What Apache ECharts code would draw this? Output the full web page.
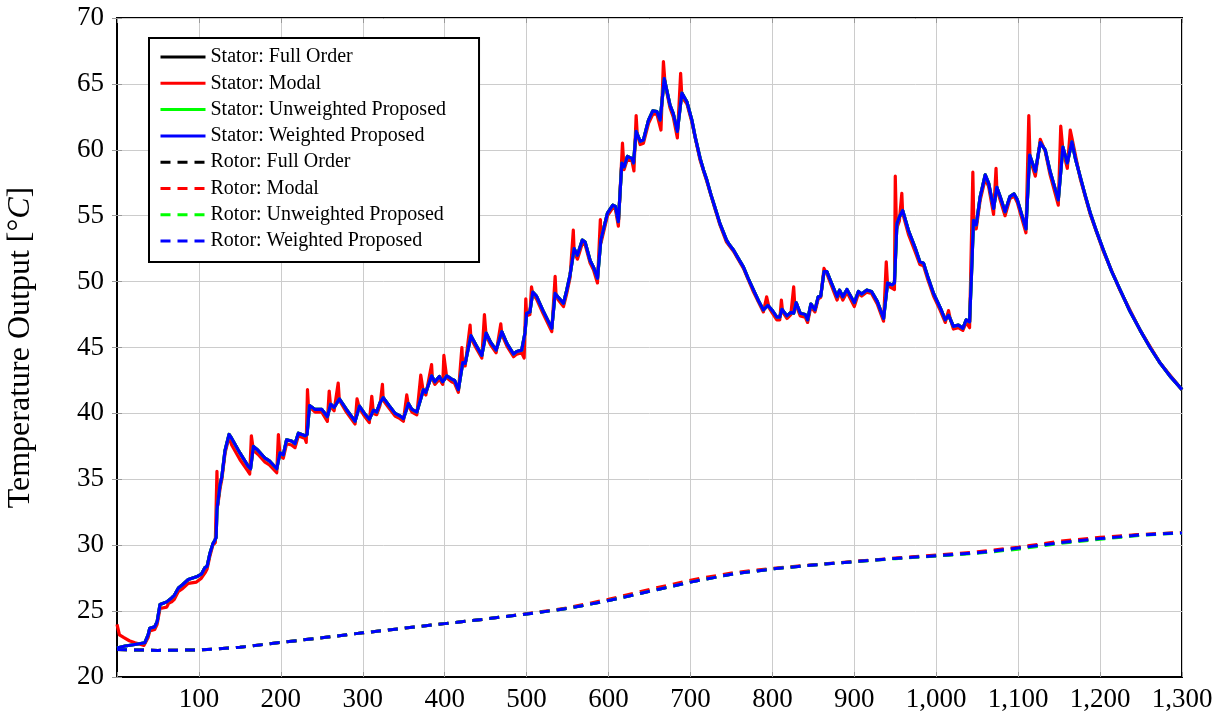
<!DOCTYPE html>
<html>
<head>
<meta charset="utf-8">
<script src="https://cdn.jsdelivr.net/npm/echarts@6/dist/echarts.min.js"></script>
<style>html,body{margin:0;padding:0;background:#fff;}#c{width:1225px;height:719px;}</style>
</head>
<body>
<div id="c"></div>
<script>
// Stator: full order / proposed (visually coincident)
const statorTime = [0,10,20,34,38,40,46,49,52.5,60.7,63,66.7,70,75,80,87,97,103,107.4,110,113.5,117,119.7,121,122,125.8,128,131.9,136.8,140,150,160,163,166.5,172,180.7,186,195,199,203,207,213,217.3,221.4,229.5,232,235,241.8,250,256.8,260.8,265,271.4,280,290.6,295.9,302,308,313,317,321,325,332,339.4,345.5,349.6,355.7,360,366,374,377,384,388,393.5,397.6,402.5,408.5,412,416.7,422,425,432,438,445.3,450.5,456,462.8,469.7,476,484,488,494,498,500,504,507.5,512,520,530.7,534.8,538.8,545,549,553,558,562,568,571.4,577.5,581.6,586.5,590.6,593,598.7,605.2,608.4,612,616.2,619,623,628.5,630.5,633.7,638.6,642.6,648.8,654,659,663,668,675,679,684,689.5,695.6,701.7,706,711.8,716,720,725,730,736,744,748,752.5,758,764.7,770,777,783,789,794.4,800,805.4,809,811.6,817.7,822.5,826,829,834,840,843,847,852,856,859,863,866.5,872,879,882,886,891,900,905,909,915,921,928,935.7,940.6,946,949,952,955,959,966,974,980,984.5,990,996.7,1005,1011,1015,1021,1027,1032.5,1036.6,1040.7,1043,1045.5,1048.8,1053.7,1059.8,1064,1070,1074,1078,1084,1090,1095,1099,1109.5,1114,1121,1127,1133,1139,1149,1154.6,1160,1165.6,1170,1175.8,1182,1188,1196,1204,1214,1224.6,1236.5,1249,1261,1273.5,1286.5,1300];
const statorFull = [22.2,22.35,22.45,22.6,23.2,23.7,23.8,24.2,25.5,25.7,25.8,26.0,26.2,26.75,27.0,27.4,27.6,27.8,28.3,28.4,29.4,30.1,30.4,30.6,32.7,34.6,35.2,37.2,38.4,38.1,37.0,36.0,35.8,37.5,37.2,36.6,36.4,35.8,37.0,36.85,38.0,37.9,37.7,38.5,38.3,38.4,40.6,40.3,40.3,39.75,40.7,40.45,41.1,40.3,39.4,40.55,40.0,39.55,40.25,40.1,40.8,41.2,40.6,40.0,39.8,39.6,40.75,40.3,40.1,41.8,41.6,42.85,42.4,42.8,42.4,42.85,42.6,42.5,41.8,43.85,43.8,45.9,45.2,44.4,46.1,45.4,44.8,46.2,45.3,44.5,44.7,44.8,46.1,47.6,47.7,49.2,48.9,47.8,46.45,49.1,48.8,48.35,49.35,50.5,52.5,52.0,53.15,53.0,51.6,51.1,50.25,53.15,53.3,55.2,55.8,55.7,54.55,59.0,58.7,59.5,59.35,59.0,61.4,60.65,60.75,62.25,62.95,62.9,62.25,65.4,63.4,62.75,61.4,64.3,63.65,62.25,60.9,59.35,58.45,57.7,56.6,55.6,54.4,53.15,52.75,52.4,51.8,51.1,50.3,49.35,48.55,47.85,48.2,47.8,47.3,47.3,47.9,47.4,47.65,47.6,48.4,47.6,47.5,47.1,48.3,47.85,48.85,48.9,50.75,50.75,49.9,48.85,49.35,48.85,49.4,48.4,49.25,49.05,49.35,49.25,48.5,47.2,49.9,49.75,49.9,54.4,54.9,55.4,53.9,52.6,51.5,51.4,50.3,49.1,48.0,47.1,47.45,46.6,46.7,46.45,47.1,46.95,50.5,54.65,54.3,56.45,58.1,57.45,55.55,57.15,56.45,55.3,56.45,56.65,56.2,54.0,59.6,58.35,60.55,60.0,58.35,56.2,60.2,59.0,60.6,59.3,57.95,56.5,55.2,53.75,52.4,50.8,49.35,47.75,46.3,45.0,43.8,42.75,41.8];

// Stator: modal
const modalTime = [0,3,8,15,22,33,38,40,46,49,52.5,60.7,63,66.7,70,75,80,87,97,103,107.4,110,113.5,117,120,122,123,125.8,128,131.9,136.8,140,150,160,162,164,166.5,172,180.7,186,195,197,199,203,207,213,217.3,221.4,229.5,231,232.5,234,235,241.8,250,256.8,259,260.8,265,270,271.4,280,290.6,293,295.9,302,308,311,313,317,321,324,325,332,339.4,345.5,349.6,353.7,355.7,360,366,370.8,374,377,384,385,388,393.5,397.6,399,402.5,408.5,412,416.7,421,422,425,431,432,438,445.3,448.5,450.5,456,462.8,468.5,469.7,476,484,488,494,497,499,500,504,506,507.5,512,520,530.7,534.8,536,538.8,545,549,553,557,558,562,568,571.4,577.5,581.6,586.5,590,591,593,598.7,605.2,608.4,612,617,619,623,628.5,631,633.7,635,638.6,642.6,648.8,654,659,664,667,669,675,679,684,688,689.5,695.6,701.7,711.8,720,730,736,744,752.5,764.7,777,789,793,796,800,805.4,809,811,812.5,817.7,822.5,826,827.5,829,834,840,843,847,852,856,859,863,866.5,872,879,882,886,891,900,905,909,915,921,928,935.7,939,940.6,946,949,950,951.5,955,958,959,966,974,980,984.5,990,996.7,1005,1011,1015,1017,1021,1027,1032.5,1036.6,1040.7,1044.7,1046,1048.8,1053.7,1059.8,1064,1070,1073,1074,1078,1084,1090,1095,1099,1109.5,1113,1114.5,1121,1127,1133,1139,1149,1152,1154.6,1160,1163.6,1165.6,1175.8,1188,1204,1224.6,1249,1273.5,1300];
const modalValues = [24.0,23.2,23.0,22.75,22.6,22.4,23.0,23.5,23.6,24.0,25.2,25.3,25.6,25.7,25.9,26.5,26.7,27.1,27.2,27.5,27.9,28.2,29.2,30.0,30.2,35.6,33.0,34.3,35.0,37.0,38.2,37.6,36.5,35.6,35.4,38.3,37.2,36.9,36.3,36.1,35.5,38.4,36.8,36.6,37.7,37.6,37.4,38.3,38.1,37.8,41.8,40.2,40.5,40.1,40.1,39.4,41.7,40.5,40.2,42.3,41.0,40.1,39.2,41.1,40.4,39.8,39.3,41.3,40.0,39.9,40.6,42.2,41.0,40.4,39.8,39.6,39.4,41.4,40.6,40.1,39.9,42.9,41.6,41.4,43.7,42.6,42.2,42.6,42.2,44.4,42.7,42.4,42.3,41.6,45.0,43.6,43.6,46.7,45.7,45.0,44.2,47.5,45.9,45.2,44.6,46.8,46.0,45.1,44.3,44.5,44.6,44.2,48.7,47.4,47.5,49.6,49.0,48.7,47.6,46.2,50.4,48.9,48.6,48.1,49.1,50.3,53.9,52.3,51.7,52.9,52.8,51.4,50.9,49.9,54.7,53.0,53.1,55.0,55.6,55.5,54.2,60.5,58.5,59.3,59.2,58.4,62.6,61.2,60.4,60.5,62.0,62.7,62.7,61.5,66.7,65.0,63.2,62.5,60.9,65.8,64.0,63.5,62.1,59.2,57.6,55.5,54.3,53.0,52.3,51.0,49.2,47.7,48.85,48.0,47.6,47.1,47.1,48.6,47.7,47.2,47.5,49.6,48.0,48.2,47.4,47.3,46.9,48.1,47.7,48.7,48.8,51.0,50.6,49.7,48.6,49.2,48.6,49.2,48.1,49.1,48.9,49.2,49.1,48.3,47.0,51.5,49.7,49.5,49.4,58.0,54.0,54.6,56.7,55.2,53.6,52.3,51.3,51.2,50.1,48.9,47.8,46.9,47.8,47.2,46.4,46.5,46.3,46.9,46.5,58.3,54.0,54.0,56.2,57.8,57.2,55.1,58.6,57.0,56.2,55.0,56.3,56.5,56.0,53.7,62.6,59.3,58.0,60.8,59.9,58.1,55.8,61.8,60.0,58.6,61.5,60.9,57.8,55.1,52.3,49.3,46.3,43.8,41.8];

// Rotor
const rotorTime = [0,50,100,150,200,250,300,350,400,450,500,550,600,650,700,750,800,850,900,950,1000,1050,1100,1150,1200,1250,1300];
const rotorFull = [22.08,22.02,22.05,22.25,22.62,22.98,23.35,23.7,24.05,24.4,24.78,25.2,25.8,26.5,27.2,27.8,28.2,28.5,28.75,29.0,29.2,29.42,29.78,30.2,30.52,30.8,30.95];
const rotorModal = [22.08,22.02,22.05,22.25,22.62,22.98,23.35,23.7,24.05,24.4,24.8,25.25,25.9,26.65,27.35,27.9,28.25,28.52,28.78,29.02,29.25,29.5,29.85,30.3,30.6,30.82,30.95];
const rotorUnweighted = [22.08,22.02,22.05,22.25,22.62,22.98,23.35,23.7,24.05,24.4,24.78,25.2,25.8,26.5,27.2,27.8,28.2,28.5,28.75,28.98,29.18,29.38,29.7,30.12,30.45,30.75,30.92];
const rotorWeighted = [22.08,22.02,22.05,22.25,22.62,22.98,23.35,23.7,24.05,24.4,24.78,25.2,25.8,26.5,27.2,27.8,28.2,28.5,28.75,29.0,29.2,29.42,29.78,30.18,30.5,30.78,30.93];

const xTicks = {min: 0, max: 1300, interval: 100};
const yTicks = {min: 20, max: 70, interval: 5};

const names = ['Stator: Full Order','Stator: Modal','Stator: Unweighted Proposed','Stator: Weighted Proposed','Rotor: Full Order','Rotor: Modal','Rotor: Unweighted Proposed','Rotor: Weighted Proposed'];
const colors = ['#000000','#ff0000','#00ff00','#0000ff'];

const zip = (xs, ys) => xs.map((x, i) => [x, ys[i]]);
const serif = 'Liberation Serif';

function lineSeries(name, data, color, dashed) {
  return {
    name, type: 'line', data, showSymbol: false, symbol: 'none',
    animation: false, silent: true,
    lineStyle: {color, width: dashed ? 3 : 3.2, type: dashed ? [10, 7] : 'solid', cap: 'butt', join: 'round'},
    itemStyle: {color}
  };
}

const series = [
  lineSeries(names[0], zip(statorTime, statorFull), colors[0], false),
  lineSeries(names[1], zip(modalTime, modalValues), colors[1], false),
  lineSeries(names[2], zip(statorTime, statorFull), colors[2], false),
  lineSeries(names[3], zip(statorTime, statorFull), colors[3], false),
  lineSeries(names[4], zip(rotorTime, rotorFull), colors[0], true),
  lineSeries(names[5], zip(rotorTime, rotorModal), colors[1], true),
  lineSeries(names[6], zip(rotorTime, rotorUnweighted), colors[2], true),
  lineSeries(names[7], zip(rotorTime, rotorWeighted), colors[3], true)
];

const chart = echarts.init(document.getElementById('c'), null, {renderer: 'canvas'});
chart.setOption({
  animation: false,
  backgroundColor: '#ffffff',
  grid: {left: 117, right: 43, top: 18, bottom: 42, show: true, borderColor: '#000', borderWidth: 2, containLabel: false, outerBoundsMode: 'none'},
  legend: {
    data: names, orient: 'vertical', left: 149, top: 38,
    itemWidth: 45, itemHeight: 14, itemGap: 6.3,
    padding: [9, 33, 11, 10],
    backgroundColor: '#fff', borderColor: '#000', borderWidth: 2,
    itemStyle: {color: 'rgba(0,0,0,0)', borderColor: 'rgba(0,0,0,0)', borderWidth: 0, opacity: 0},
    lineStyle: {width: 3},
    textStyle: {fontFamily: serif, fontSize: 20, color: '#000'},
    z: 10
  },
  xAxis: [{
    type: 'value', min: xTicks.min, max: xTicks.max, interval: xTicks.interval,
    axisLine: {show: true, lineStyle: {color: '#000', width: 2}},
    axisTick: {show: true, inside: true, length: 5, lineStyle: {color: '#999'}},
    splitLine: {show: true, lineStyle: {color: '#cccccc', width: 1}},
    axisLabel: {fontFamily: serif, fontSize: 27, color: '#000', margin: 9,
      formatter: v => v === 0 ? '' : v.toLocaleString('en-US')}
  }, {
    type: 'value', position: 'top', min: xTicks.min, max: xTicks.max, interval: xTicks.interval,
    axisLine: {show: false}, axisLabel: {show: false}, splitLine: {show: false},
    axisTick: {show: true, inside: true, length: 5, lineStyle: {color: '#999'}}
  }],
  yAxis: [{
    type: 'value', min: yTicks.min, max: yTicks.max, interval: yTicks.interval,
    axisLine: {show: true, lineStyle: {color: '#000', width: 2}},
    axisTick: {show: true, inside: true, length: 5, lineStyle: {color: '#999'}},
    splitLine: {show: true, lineStyle: {color: '#cccccc', width: 1}},
    axisLabel: {fontFamily: serif, fontSize: 27, color: '#000', margin: 13},
    name: '{a|Temperature Output [°}{b|C}{a|]}',
    nameLocation: 'middle', nameRotate: 90, nameGap: 80,
    nameTextStyle: {fontFamily: serif, fontSize: 32, color: '#000',
      rich: {a: {fontFamily: serif, fontSize: 32, color: '#000'}, b: {fontFamily: serif, fontSize: 32, fontStyle: 'italic', color: '#000'}}}
  }, {
    type: 'value', position: 'right', min: yTicks.min, max: yTicks.max, interval: yTicks.interval,
    axisLine: {show: false}, axisLabel: {show: false}, splitLine: {show: false},
    axisTick: {show: true, inside: true, length: 5, lineStyle: {color: '#999'}}
  }],
  series
});
</script>
</body>
</html>
